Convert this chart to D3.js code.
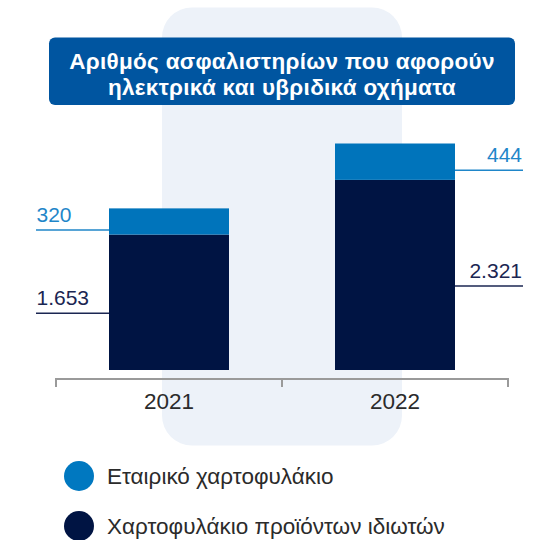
<!DOCTYPE html>
<html>
<head>
<meta charset="utf-8">
<script src="https://cdn.jsdelivr.net/npm/d3@7/dist/d3.min.js"></script>
<style>
  html, body { margin: 0; padding: 0; background: #ffffff; }
  svg { display: block; font-family: "Liberation Sans", Arial, Helvetica, sans-serif; }
</style>
</head>
<body>
<svg id="chart" width="553" height="540"></svg>
<script>
// Years on the x axis
const years = ["2021", "2022"];
// Stacked series, bottom to top
const seriesKeys = ["private", "corporate"];
const privateValues = [1653, 2321];
const corporateValues = [320, 444];
// Legend order (top to bottom)
const legendNames = ["Εταιρικό χαρτοφυλάκιο", "Χαρτοφυλάκιο προϊόντων ιδιωτών"];
const titleLines = ["Αριθμός ασφαλιστηρίων που αφορούν", "ηλεκτρικά και υβριδικά οχήματα"];

const colors = { private: "#001443", corporate: "#0074bb" };
const labelColors = { private: "#1b2652", corporate: "#1f86c9" };
const legendColors = ["#0078c0", "#001443"];

const fmt = v => d3.format(",")(v).replace(/,/g, ".");

const rows = years.map((y, i) => ({ year: y, private: privateValues[i], corporate: corporateValues[i] }));
const stacked = d3.stack().keys(seriesKeys)(rows);

const svg = d3.select("#chart");

// Highlighted column behind the chart
svg.append("rect")
  .attr("x", 162).attr("y", 7.5)
  .attr("width", 240).attr("height", 438)
  .attr("rx", 30).attr("ry", 30)
  .attr("fill", "#edf2f9");

// Title box
const titleG = svg.append("g");
titleG.append("rect")
  .attr("x", 49).attr("y", 37.5)
  .attr("width", 466).attr("height", 67.5)
  .attr("rx", 6).attr("ry", 6)
  .attr("fill", "#0055a0");
titleG.selectAll("text").data(titleLines).join("text")
  .attr("x", 282).attr("y", (d, i) => 68.5 + i * 26.5)
  .attr("text-anchor", "middle")
  .attr("fill", "#ffffff")
  .attr("font-weight", "bold")
  .attr("font-size", 22.5)
  .attr("letter-spacing", 0.3)
  .text(d => d);

// Scales
const x = d3.scaleBand().domain(years).range([56, 508]).paddingInner(0).paddingOuter(0);
const barW = 120;
const y = d3.scaleLinear().domain([0, 2765]).range([370, 143.5]);

// Axis
const axisG = svg.append("g").attr("transform", "translate(0,379)");
axisG.append("line")
  .attr("x1", 56).attr("x2", 508)
  .attr("stroke", "#9a9a9a").attr("stroke-width", 2);
const tickXs = [56, ...years.slice(1).map(yr => x(yr)), 508];
axisG.selectAll("line.tick").data(tickXs).join("line")
  .attr("class", "tick")
  .attr("x1", d => d).attr("x2", d => d)
  .attr("y1", -1).attr("y2", 8)
  .attr("stroke", "#9a9a9a").attr("stroke-width", 2);
axisG.selectAll("text").data(years).join("text")
  .attr("x", d => x(d) + x.bandwidth() / 2)
  .attr("y", 30)
  .attr("text-anchor", "middle")
  .attr("font-size", 22.5)
  .attr("fill", "#2b2b2b")
  .text(d => d);

// Bars
const barX = d => x(d.data.year) + x.bandwidth() / 2 - barW / 2;
svg.append("g").selectAll("g").data(stacked).join("g")
  .attr("fill", s => colors[s.key])
  .selectAll("rect").data(s => s).join("rect")
  .attr("x", barX)
  .attr("y", d => y(d[1]))
  .attr("width", barW)
  .attr("height", d => y(d[0]) - y(d[1]));

// Value labels with leader lines: left side for the first year, right side for the second
const lineOffset = { private: 11, corporate: 8.5 };
const labelG = svg.append("g");
stacked.forEach(s => {
  s.forEach((d, i) => {
    const mid = (y(d[0]) + y(d[1])) / 2;
    const ly = mid + lineOffset[s.key];
    const left = i === 0;
    const bx = barX(d);
    const x1 = left ? 36 : bx + barW;
    const x2 = left ? bx : 523;
    labelG.append("line")
      .attr("x1", x1).attr("x2", x2)
      .attr("y1", ly).attr("y2", ly)
      .attr("stroke", labelColors[s.key]).attr("stroke-width", 1.5);
    labelG.append("text")
      .attr("x", left ? 36.5 : 522)
      .attr("y", ly - 8)
      .attr("text-anchor", left ? "start" : "end")
      .attr("font-size", 21)
      .attr("fill", labelColors[s.key])
      .text(fmt(d.data[s.key]));
  });
});

// Legend
const legG = svg.append("g").selectAll("g").data(legendNames).join("g")
  .attr("transform", (d, i) => `translate(79,${476 + i * 50})`);
legG.append("circle").attr("r", 15).attr("fill", (d, i) => legendColors[i]);
legG.append("text")
  .attr("x", 28).attr("y", 8)
  .attr("font-size", 22.5)
  .attr("fill", "#2b2b2b")
  .text(d => d);
</script>
</body>
</html>
